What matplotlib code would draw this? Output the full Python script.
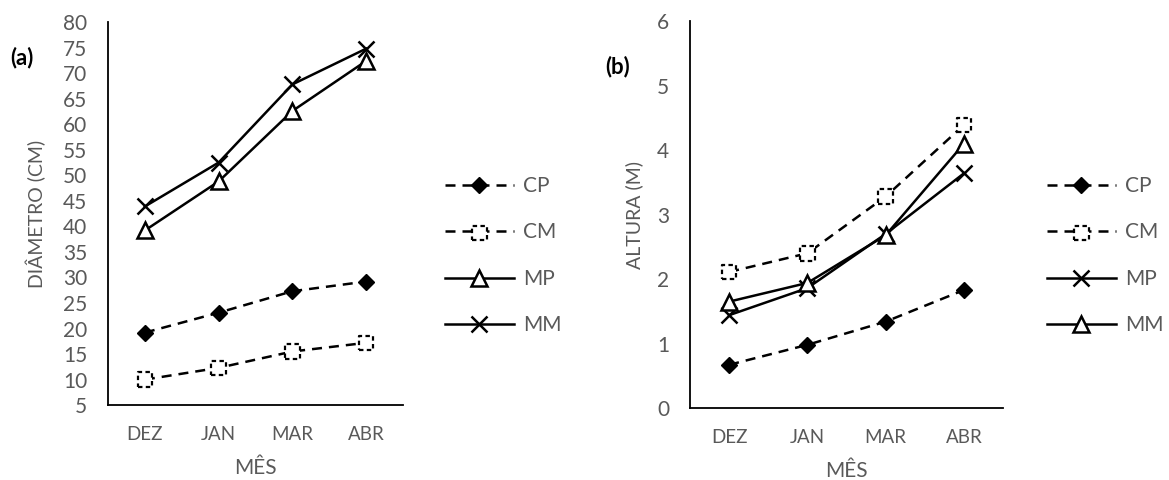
import matplotlib
matplotlib.use("Agg")
import matplotlib.pyplot as plt
from matplotlib.legend_handler import HandlerTuple

months = ["DEZ", "JAN", "MAR", "ABR"]

# (a) diâmetro (cm)
diam_cp = [19.2, 23.1, 27.3, 29.2]
diam_cm = [10.0, 12.3, 15.5, 17.2]
diam_mp = [39.2, 48.8, 62.6, 72.4]
diam_mm = [43.9, 52.5, 67.8, 74.8]

# (b) altura (m)
alt_cp = [0.67, 0.98, 1.34, 1.83]
alt_cm = [2.11, 2.40, 3.28, 4.39]
alt_mp = [1.44, 1.86, 2.70, 3.64]
alt_mm = [1.65, 1.94, 2.68, 4.10]

GREY = "#595959"
DASH = (0, (4, 2.8))
LW = 1.8

plt.rcParams["font.family"] = ["Lato", "DejaVu Sans"]


def draw_panel(ax, cp, cm, mp, mm, mp_marker, mm_marker):
    x = range(len(months))
    h_cp, = ax.plot(x, cp, color="k", lw=LW, ls=DASH, marker="D", ms=8.5,
                    mfc="k", mec="k")
    h_cm_line, = ax.plot(x, cm, color="k", lw=LW, ls=DASH)
    h_cm_mk = ax.scatter(x, cm, marker="s", s=110, facecolors="white",
                         edgecolors="k", linewidths=1.6, linestyle=(0, (2, 1.5)),
                         zorder=3)
    h_mp, = ax.plot(x, mp, color="k", lw=LW, marker=mp_marker, ms=11,
                    mfc="white", mec="k", mew=1.8)
    h_mm, = ax.plot(x, mm, color="k", lw=LW, marker=mm_marker, ms=11,
                    mfc="white", mec="k", mew=1.8)
    ax.set_xticks(list(x))
    ax.set_xticklabels(months)
    ax.set_xlim(-0.5, len(months) - 0.5)
    for s in ["top", "right"]:
        ax.spines[s].set_visible(False)
    for s in ["left", "bottom"]:
        ax.spines[s].set_linewidth(1.3)
        ax.spines[s].set_color("k")
    ax.tick_params(length=0, labelcolor=GREY)
    ax.tick_params(axis="y", labelsize=15, pad=15)
    ax.tick_params(axis="x", labelsize=13.5, pad=15)
    ax.set_xlabel("MÊS", color=GREY, fontsize=15, labelpad=11)
    return [h_cp, (h_cm_line, h_cm_mk), h_mp, h_mm]


fig = plt.figure(figsize=(11.69, 4.8), dpi=100)
ax1 = fig.add_axes([0.0924, 0.156, 0.2524, 0.798])
ax2 = fig.add_axes([0.5903, 0.150, 0.2678, 0.806])

h1 = draw_panel(ax1, diam_cp, diam_cm, diam_mp, diam_mm, "^", "x")
ax1.set_ylim(5, 80)
ax1.set_yticks(range(5, 81, 5))
ax1.set_ylabel("DIÂMETRO (CM)", color=GREY, fontsize=14, labelpad=12)

h2 = draw_panel(ax2, alt_cp, alt_cm, alt_mp, alt_mm, "x", "^")
ax2.set_ylim(0, 6)
ax2.set_yticks(range(0, 7))
ax2.set_ylabel("ALTURA (M)", color=GREY, fontsize=14, labelpad=10)

labels = ["CP", "CM", "MP", "MM"]
for handles, x0 in [(h1, 445 / 1169), (h2, 1047 / 1169)]:
    leg = fig.legend(handles, labels, loc="upper left",
                     bbox_to_anchor=(x0, 1 - 176 / 480), frameon=False,
                     fontsize=15, handlelength=3.3, handletextpad=0.45,
                     labelspacing=1.27, borderpad=0, borderaxespad=0,
                     handler_map={tuple: HandlerTuple(ndivide=1)})
    for t in leg.get_texts():
        t.set_color(GREY)

fig.text(10 / 1169, 1 - 58 / 480, "(a)", fontsize=16, fontweight="bold",
         va="center", ha="left")
fig.text(605 / 1169, 1 - 67 / 480, "(b)", fontsize=16, fontweight="bold",
         va="center", ha="left")

fig.savefig("out.png", dpi=100)
